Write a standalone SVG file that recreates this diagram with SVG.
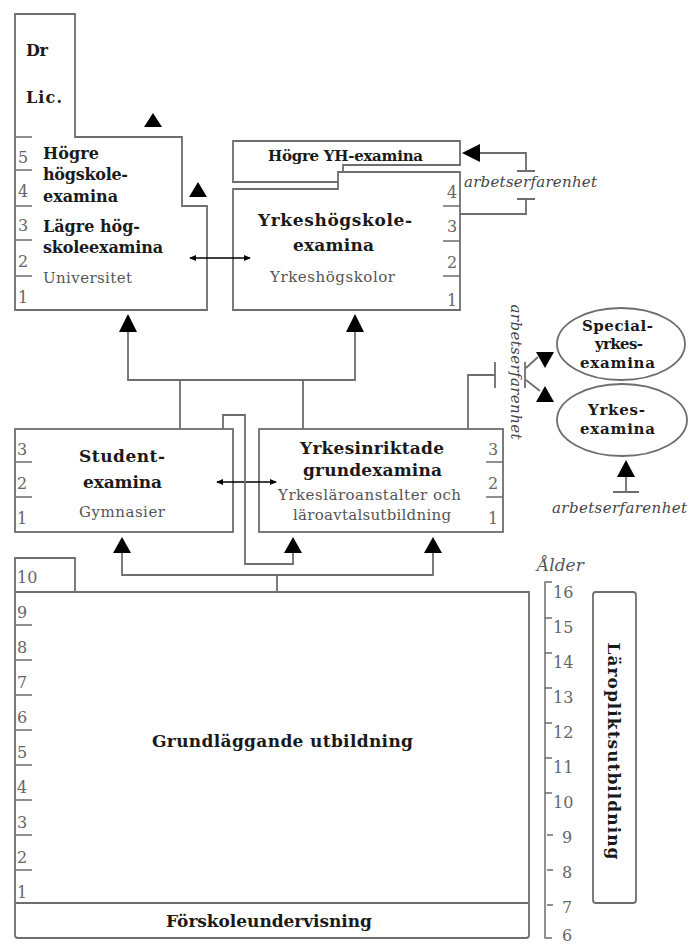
<svg xmlns="http://www.w3.org/2000/svg" width="689" height="947" viewBox="0 0 689 947">
<defs>
<style>
.box{fill:#fff;stroke:#6e6e6e;stroke-width:1.8}
.ln{fill:none;stroke:#6e6e6e;stroke-width:1.8}
.tk{fill:none;stroke:#6e6e6e;stroke-width:1.5}
.tri{fill:#000}
.b{font-family:"DejaVu Serif","Liberation Serif",serif;font-weight:bold;fill:#1a1a1a;font-size:17px}
.b16{font-size:16px}
.b15{font-size:15px}
.r{font-family:"DejaVu Serif","Liberation Serif",serif;fill:#555;font-size:15px}
.n{font-family:"DejaVu Serif","Liberation Serif",serif;fill:#666;font-size:16px}
.i{font-family:"DejaVu Serif","Liberation Serif",serif;font-style:italic;fill:#444;font-size:15px}
.dbl{fill:none;stroke:#000;stroke-width:1.5;marker-start:url(#ah);marker-end:url(#ah)}
</style>
<marker id="ah" viewBox="0 0 8 8" refX="7" refY="4" markerWidth="7" markerHeight="7" orient="auto-start-reverse" markerUnits="userSpaceOnUse">
<path d="M0,0.5 L8,4 L0,7.5 Z" fill="#000"/>
</marker>
</defs>
<rect width="689" height="947" fill="#fff"/>

<g id="universitet">
<path class="box" d="M15,310 V14 H75 V137 H182 V206 H207 V310 Z"/>
<path class="tk" d="M15,137 H32 M15,170 H32 M15,206 H32 M15,240 H32 M15,276 H32"/>
<text class="b b16" x="26" y="56" textLength="22">Dr</text>
<text class="b b16" x="26" y="103" textLength="36">Lic.</text>
<text class="b b16" x="43" y="159" textLength="56">Högre</text>
<text class="b b16" x="43" y="180" textLength="85">högskole-</text>
<text class="b b16" x="43" y="202" textLength="75">examina</text>
<text class="b b16" x="43" y="232" textLength="97">Lägre hög-</text>
<text class="b b16" x="43" y="253" textLength="120">skoleexamina</text>
<text class="r" x="43" y="283" textLength="89">Universitet</text>
<text class="n" x="18" y="163">5</text>
<text class="n" x="18" y="197">4</text>
<text class="n" x="18" y="231">3</text>
<text class="n" x="18" y="267">2</text>
<text class="n" x="18" y="303">1</text>
<path class="tri" d="M153,113 L162,127 L144,127 Z"/>
<path class="tri" d="M198,182 L207,197 L189,197 Z"/>
</g>

<g id="hogre-yh">
<path class="box" d="M233,141 H460 V165 H343 V182 H233 Z"/>
<text class="b b15" x="268" y="161" textLength="155">Högre YH-examina</text>
</g>

<g id="yrkeshogskola">
<path class="box" d="M233,189 H338 V172 H460 V310 H233 Z"/>
<path class="tk" d="M443,206 H460 M443,241 H460 M443,276 H460"/>
<text class="b" x="258" y="226" textLength="154">Yrkeshögskole-</text>
<text class="b" x="293" y="251" textLength="81">examina</text>
<text class="r" x="270" y="282" textLength="125">Yrkeshögskolor</text>
<text class="n" x="447" y="198">4</text>
<text class="n" x="447" y="232">3</text>
<text class="n" x="447" y="268">2</text>
<text class="n" x="447" y="306">1</text>
</g>

<g id="student">
<rect class="box" x="15" y="429" width="218" height="103"/>
<path class="tk" d="M15,462 H32 M15,497 H32"/>
<text class="b" x="79" y="462" textLength="86">Student-</text>
<text class="b" x="83" y="488" textLength="79">examina</text>
<text class="r" x="79" y="517" textLength="86">Gymnasier</text>
<text class="n" x="17" y="455">3</text>
<text class="n" x="17" y="489">2</text>
<text class="n" x="17" y="524">1</text>
</g>

<g id="yrkesinriktade">
<rect class="box" x="259" y="429" width="244" height="103"/>
<path class="tk" d="M486,462 H503 M486,497 H503"/>
<text class="b" x="300" y="454" textLength="144">Yrkesinriktade</text>
<text class="b" x="303" y="476" textLength="139">grundexamina</text>
<text class="r" x="278" y="500" textLength="183">Yrkesläroanstalter och</text>
<text class="r" x="293" y="520" textLength="158">läroavtalsutbildning</text>
<text class="n" x="488" y="455">3</text>
<text class="n" x="488" y="489">2</text>
<text class="n" x="488" y="524">1</text>
</g>

<g id="specialyrkesexamina">
<ellipse class="box" cx="621" cy="344" rx="64" ry="36"/>
<text class="b b15" x="582" y="331" textLength="71">Special-</text>
<text class="b b15" x="595" y="349" textLength="48">yrkes-</text>
<text class="b b15" x="580" y="368" textLength="75">examina</text>
</g>

<g id="yrkesexamina">
<ellipse class="box" cx="622" cy="420" rx="65" ry="36"/>
<text class="b b15" x="588" y="415" textLength="57">Yrkes-</text>
<text class="b b15" x="580" y="434" textLength="75">examina</text>
</g>

<g id="grundlaggande">
<path class="box" d="M15,592 V558 H75 V592"/>
<path class="box" d="M15,592 H529 V935 Q529,938 526,938 H18 Q15,938 15,935 Z"/>
<path class="ln" d="M15,903 H529"/>
<path class="tk" d="M15,625 H32 M15,660 H32 M15,695 H32 M15,730 H32 M15,765 H32 M15,800 H32 M15,835 H32 M15,870 H32"/>
<text class="n" x="17" y="583">10</text>
<text class="n" x="17" y="618">9</text>
<text class="n" x="17" y="653">8</text>
<text class="n" x="17" y="688">7</text>
<text class="n" x="17" y="723">6</text>
<text class="n" x="17" y="758">5</text>
<text class="n" x="17" y="793">4</text>
<text class="n" x="17" y="828">3</text>
<text class="n" x="17" y="863">2</text>
<text class="n" x="17" y="898">1</text>
<text class="b" x="152" y="747" textLength="261">Grundläggande utbildning</text>
<text class="b" x="166" y="927" textLength="206">Förskoleundervisning</text>
</g>

<g id="alder">
<text class="i" x="537" y="571" style="font-size:17px;fill:#555">Ålder</text>
<path class="tk" d="M552,582 H545 V938 H552 M545,618 H552 M545,653 H552 M545,688 H552 M545,723 H552 M545,758 H552 M545,793 H552 M547,835 H553 M547,870 H553 M547,905 H553"/>
<text class="n" x="553" y="598">16</text>
<text class="n" x="553" y="633">15</text>
<text class="n" x="553" y="668">14</text>
<text class="n" x="553" y="703">13</text>
<text class="n" x="553" y="738">12</text>
<text class="n" x="553" y="773">11</text>
<text class="n" x="553" y="808">10</text>
<text class="n" x="562" y="843">9</text>
<text class="n" x="562" y="878">8</text>
<text class="n" x="562" y="913">7</text>
<text class="n" x="562" y="941">6</text>
</g>

<g id="laroplikt">
<rect class="box" x="593" y="592" width="43" height="311" rx="3"/>
<text class="b" transform="translate(608,751) rotate(90)" x="0" y="0" text-anchor="middle" textLength="217">Läropliktsutbildning</text>
</g>

<g id="connectors">
<path class="ln" d="M128,332 V380 H355 V332 M180,380 V429 M303,380 V429"/>
<path class="tri" d="M128,314 L137,332 L119,332 Z"/>
<path class="tri" d="M355,314 L364,332 L346,332 Z"/>
<path class="dbl" d="M190,258 H250"/>
<path class="dbl" d="M217,482 H276"/>
<path class="ln" d="M223,429 V415 H245 V564 H293 V553"/>
<path class="tri" d="M293,537 L302,553 L284,553 Z"/>
<path class="ln" d="M122,553 V575 H433 V553 M277,575 V592"/>
<path class="tri" d="M122,537 L131,553 L113,553 Z"/>
<path class="tri" d="M433,537 L442,553 L424,553 Z"/>
<path class="ln" d="M480,153 H526 V171 M517,171 H535 M517,199 H535 M526,199 V214 H460"/>
<path class="tri" d="M462,153 L480,144 L480,162 Z"/>
<text class="i" x="464" y="187" textLength="133">arbetserfarenhet</text>
<path class="ln" d="M468,429 V375 H495 M495,362 V388 M525,362 V388 M526,368 L538,357 M526,380 L540,391"/>
<path class="tri" d="M536,352 L554,352 L545,368 Z"/>
<path class="tri" d="M545,386 L554,402 L536,402 Z"/>
<text class="i" transform="translate(511,372) rotate(90)" x="0" y="0" text-anchor="middle" textLength="135">arbetserfarenhet</text>
<path class="ln" d="M626,477 V492 M613,492 H639"/>
<path class="tri" d="M626,460 L635,477 L617,477 Z"/>
<text class="i" x="552" y="513" textLength="135">arbetserfarenhet</text>
</g>
</svg>
